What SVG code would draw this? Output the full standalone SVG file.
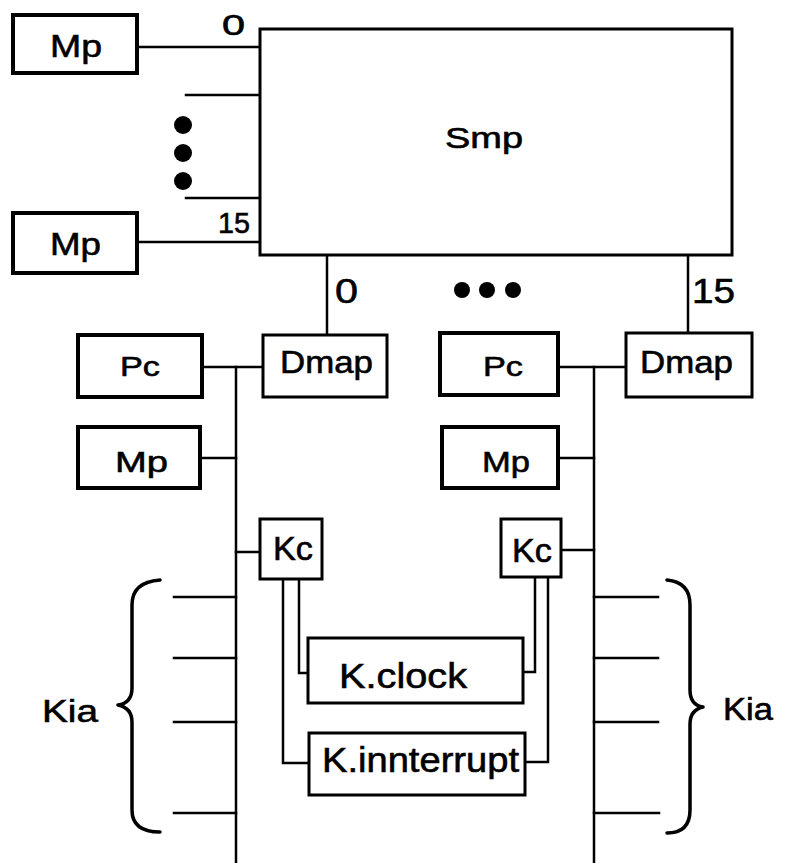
<svg xmlns="http://www.w3.org/2000/svg" width="785" height="863" viewBox="0 0 785 863">
<style>
.box{fill:#fff;stroke:#000;stroke-width:4}
.thin{fill:#fff;stroke:#000;stroke-width:3}
.ln{fill:none;stroke:#000;stroke-width:2.5;stroke-linecap:square}
.br{fill:none;stroke:#000;stroke-width:3.5;stroke-linecap:round;stroke-linejoin:round}
text{font-family:"Liberation Sans",Arial,sans-serif;fill:#000;stroke:#000;stroke-width:0.6}
.dot{fill:#000}
</style>
<rect width="785" height="863" fill="#fff"/>
<g id="connectors">
<line class="ln" x1="137" y1="47" x2="260" y2="47"/>
<line class="ln" x1="186" y1="95" x2="260" y2="95"/>
<line class="ln" x1="186" y1="198" x2="260" y2="198"/>
<line class="ln" x1="137" y1="242" x2="260" y2="242"/>
<line class="ln" x1="327" y1="255" x2="327" y2="335"/>
<line class="ln" x1="688" y1="255" x2="688" y2="333"/>
<line class="ln" x1="202" y1="367" x2="263" y2="367"/>
<line class="ln" x1="236" y1="367" x2="236" y2="862"/>
<line class="ln" x1="200" y1="458" x2="236" y2="458"/>
<line class="ln" x1="236" y1="552" x2="260" y2="552"/>
<line class="ln" x1="174" y1="597" x2="236" y2="597"/>
<line class="ln" x1="174" y1="658" x2="236" y2="658"/>
<line class="ln" x1="174" y1="722" x2="236" y2="722"/>
<line class="ln" x1="174" y1="813" x2="236" y2="813"/>
<polyline class="ln" points="299,579 299,673 308,673"/>
<polyline class="ln" points="283,579 283,763 309,763"/>
<line class="ln" x1="558" y1="367" x2="626" y2="367"/>
<line class="ln" x1="594" y1="367" x2="594" y2="862"/>
<line class="ln" x1="558" y1="458" x2="594" y2="458"/>
<line class="ln" x1="561" y1="550" x2="594" y2="550"/>
<line class="ln" x1="594" y1="597" x2="658" y2="597"/>
<line class="ln" x1="594" y1="658" x2="658" y2="658"/>
<line class="ln" x1="594" y1="722" x2="658" y2="722"/>
<line class="ln" x1="594" y1="813" x2="659" y2="813"/>
<polyline class="ln" points="535,577 535,672 523,672"/>
<polyline class="ln" points="548,577 548,762 525,762"/>
</g>
<g id="smp"><rect class="thin" x="260" y="29" width="472" height="226"/><text x="445" y="148" font-size="29" textLength="78" lengthAdjust="spacingAndGlyphs">Smp</text></g>
<g id="labels">
<text x="222" y="35" font-size="29" textLength="23" lengthAdjust="spacingAndGlyphs">0</text>
<text x="218" y="233" font-size="30" textLength="32" lengthAdjust="spacingAndGlyphs">15</text>
<text x="335" y="303" font-size="35" textLength="23" lengthAdjust="spacingAndGlyphs">0</text>
<text x="692" y="303" font-size="35" textLength="43" lengthAdjust="spacingAndGlyphs">15</text>
<circle class="dot" cx="183" cy="125" r="9"/><circle class="dot" cx="183" cy="153" r="9"/><circle class="dot" cx="183" cy="181" r="9"/>
<circle class="dot" cx="462" cy="290" r="8"/><circle class="dot" cx="487" cy="290" r="8"/><circle class="dot" cx="513" cy="290" r="8"/>
</g>
<g id="mp-top"><rect class="box" x="13" y="15" width="124" height="58"/><text x="50" y="57" font-size="32" textLength="52" lengthAdjust="spacingAndGlyphs">Mp</text></g>
<g id="mp-bottom"><rect class="box" x="13" y="213" width="124" height="60"/><text x="50" y="255" font-size="32" textLength="51" lengthAdjust="spacingAndGlyphs">Mp</text></g>
<g id="pc-left"><rect class="box" x="78" y="335" width="124" height="62"/><text x="120" y="376" font-size="28" textLength="40" lengthAdjust="spacingAndGlyphs">Pc</text></g>
<g id="dmap-left"><rect class="thin" x="263" y="335" width="124" height="62"/><text x="280" y="373" font-size="31" textLength="93" lengthAdjust="spacingAndGlyphs">Dmap</text></g>
<g id="mp-left"><rect class="box" x="78" y="427" width="122" height="61"/><text x="115" y="472" font-size="30" textLength="53" lengthAdjust="spacingAndGlyphs">Mp</text></g>
<g id="kc-left"><rect class="thin" x="260" y="519" width="62" height="60"/><text x="273" y="560" font-size="33" textLength="40" lengthAdjust="spacingAndGlyphs">Kc</text></g>
<g id="k-clock"><rect class="thin" x="308" y="638" width="215" height="65"/><text x="339" y="688" font-size="35" textLength="128" lengthAdjust="spacingAndGlyphs">K.clock</text></g>
<g id="k-interrupt"><rect class="thin" x="309" y="733" width="216" height="62"/><text x="322" y="772" font-size="35" textLength="197" lengthAdjust="spacingAndGlyphs">K.innterrupt</text></g>
<g id="pc-right"><rect class="box" x="440" y="333" width="118" height="62"/><text x="483" y="376" font-size="28" textLength="40" lengthAdjust="spacingAndGlyphs">Pc</text></g>
<g id="dmap-right"><rect class="thin" x="626" y="333" width="126" height="64"/><text x="640" y="373" font-size="31" textLength="93" lengthAdjust="spacingAndGlyphs">Dmap</text></g>
<g id="mp-right"><rect class="box" x="442" y="427" width="116" height="61"/><text x="482" y="472" font-size="30" textLength="48" lengthAdjust="spacingAndGlyphs">Mp</text></g>
<g id="kc-right"><rect class="thin" x="501" y="519" width="60" height="58"/><text x="512" y="562" font-size="33" textLength="40" lengthAdjust="spacingAndGlyphs">Kc</text></g>
<g id="kia-left"><path class="br" d="M160,580 Q132,582 132,605 L132,688 Q132,703 118,705 Q132,708 132,722 L132,810 Q132,832 160,832"/><text x="42" y="722" font-size="32" textLength="56" lengthAdjust="spacingAndGlyphs">Kia</text></g>
<g id="kia-right"><path class="br" d="M667,580 Q690,582 690,605 L690,690 Q690,705 703,707 Q690,710 690,724 L690,810 Q690,833 667,833"/><text x="723" y="720" font-size="32" textLength="50" lengthAdjust="spacingAndGlyphs">Kia</text></g>
</svg>
